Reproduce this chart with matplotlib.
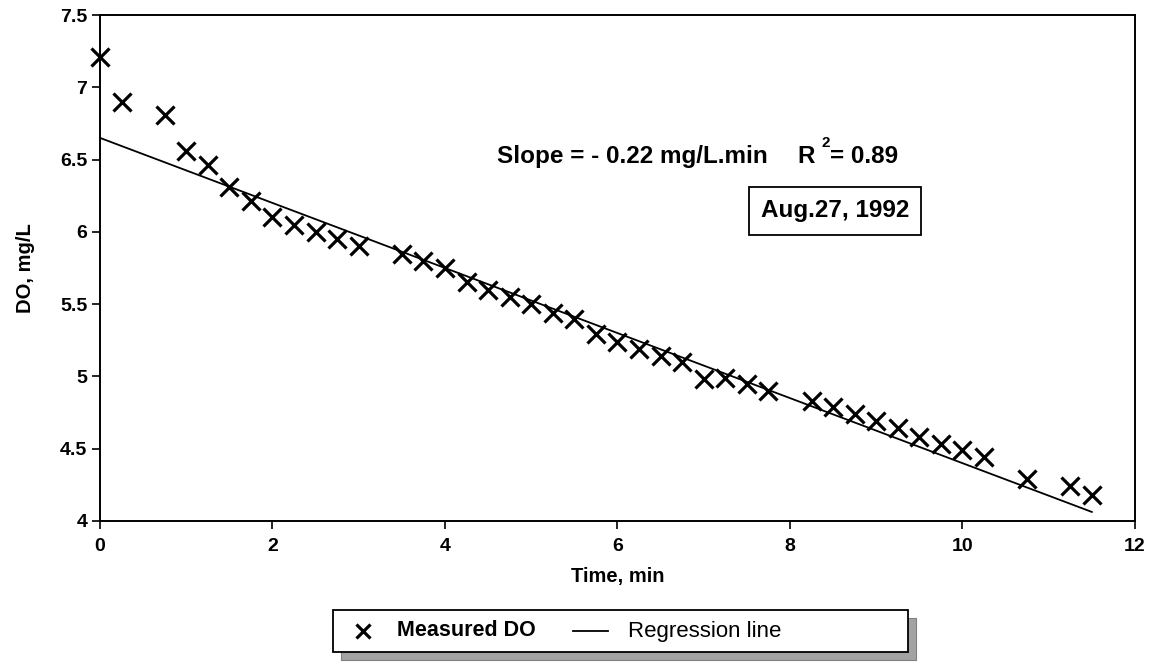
import matplotlib
matplotlib.use("Agg")
import matplotlib.pyplot as plt
from matplotlib.patches import Rectangle
from matplotlib.lines import Line2D

# ---- data ----
time_min = [0, 0.25, 0.75, 1.0, 1.25, 1.5, 1.75, 2.0, 2.25, 2.5, 2.75, 3.0,
            3.5, 3.75, 4.0, 4.25, 4.5, 4.75, 5.0, 5.25, 5.5, 5.75, 6.0, 6.25,
            6.5, 6.75, 7.0, 7.25, 7.5, 7.75, 8.25, 8.5, 8.75, 9.0, 9.25, 9.5,
            9.75, 10.0, 10.25, 10.75, 11.25, 11.5]
do_mgL = [7.21, 6.90, 6.81, 6.56, 6.46, 6.31, 6.21, 6.10, 6.05, 6.00, 5.95, 5.90,
          5.85, 5.80, 5.75, 5.65, 5.60, 5.55, 5.50, 5.44, 5.40, 5.29, 5.24, 5.19,
          5.14, 5.10, 4.98, 4.99, 4.95, 4.90, 4.83, 4.79, 4.74, 4.69, 4.64, 4.58,
          4.53, 4.49, 4.44, 4.29, 4.24, 4.18]
reg_intercept = 6.65
reg_slope = -0.225
reg_x = [0, 11.5]

x_ticks = [0, 2, 4, 6, 8, 10, 12]
y_ticks = [4, 4.5, 5, 5.5, 6, 6.5, 7, 7.5]
y_ticklabels = ["4", "4.5", "5", "5.5", "6", "6.5", "7", "7.5"]

plt.rcParams['font.family'] = ['Liberation Sans', 'DejaVu Sans']

fig = plt.figure(figsize=(11.6, 6.64), dpi=100)
ax = fig.add_axes([0.0862, 0.2154, 0.8922, 0.762])

ax.plot(time_min, do_mgL, linestyle='none', marker='x', color='black',
        markersize=13.5, markeredgewidth=2.3, clip_on=False, zorder=3)
reg_y = [reg_intercept + reg_slope * x for x in reg_x]
ax.plot(reg_x, reg_y, color='black', linewidth=1.3, zorder=2)

ax.set_xlim(0, 12)
ax.set_ylim(4, 7.5)
ax.set_xticks(x_ticks)
ax.set_xticklabels([str(t) for t in x_ticks])
ax.set_yticks(y_ticks)
ax.set_yticklabels(y_ticklabels)
ax.tick_params(direction='out', length=6, width=1.2, labelsize=14)
ax.tick_params(axis='x', pad=6)
ax.tick_params(axis='y', pad=3)
for lbl in ax.get_xticklabels() + ax.get_yticklabels():
    lbl.set_fontweight('bold')
for s in ax.spines.values():
    s.set_linewidth(1.4)

ax.set_xlabel("Time, min", fontsize=14.5, fontweight='bold', labelpad=9)
ax.set_ylabel("DO, mg/L", fontsize=14.5, fontweight='bold', labelpad=18)

# annotation text
tb = 1 - 163/664
fig.text(497/1160, tb, "Slope = - 0.22 mg/L.min", fontsize=17.5,
         fontweight='bold', ha='left', va='baseline')
fig.text(797/1160, tb, "R", fontsize=17.5, fontweight='bold',
         ha='left', va='baseline')
fig.text(826/1160, 1 - 147/664, "2", fontsize=11, fontweight='bold',
         ha='center', va='baseline')
fig.text(898/1160, tb, "= 0.89", fontsize=17.5, fontweight='bold',
         ha='right', va='baseline')

fig.text(835/1160, 1 - 211/664, "Aug.27, 1992", fontsize=17.5, fontweight='bold',
         ha='center', va='center',
         bbox=dict(boxstyle='square,pad=0.5', facecolor='white',
                   edgecolor='black', linewidth=1.3))

# legend with shadow
lx0, lx1 = 333/1160, 908/1160
ly0, ly1 = 1 - 652/664, 1 - 610/664
dx, dy = 8/1160, 8/664
fig.patches.append(Rectangle((lx0 + dx, ly0 - dy), lx1 - lx0, ly1 - ly0,
                             transform=fig.transFigure, facecolor='#a3a3a3',
                             edgecolor='#808080', linewidth=0.8, zorder=1))
fig.patches.append(Rectangle((lx0, ly0), lx1 - lx0, ly1 - ly0,
                             transform=fig.transFigure, facecolor='white',
                             edgecolor='black', linewidth=1.3, zorder=2))
ymid = 1 - 631/664
fig.lines.append(Line2D([363/1160], [ymid], marker='x', color='black',
                        markersize=10, markeredgewidth=2.3, linestyle='none',
                        transform=fig.transFigure, zorder=3))
fig.text(397/1160, ymid, "Measured DO", fontsize=15.5, fontweight='bold',
         ha='left', va='center', zorder=3)
fig.lines.append(Line2D([573/1160, 608/1160], [ymid, ymid], color='black',
                        linewidth=1.3, transform=fig.transFigure, zorder=3))
fig.text(628/1160, ymid, "Regression line", fontsize=16,
         ha='left', va='center', zorder=3)

fig.savefig("out.png", dpi=100)
